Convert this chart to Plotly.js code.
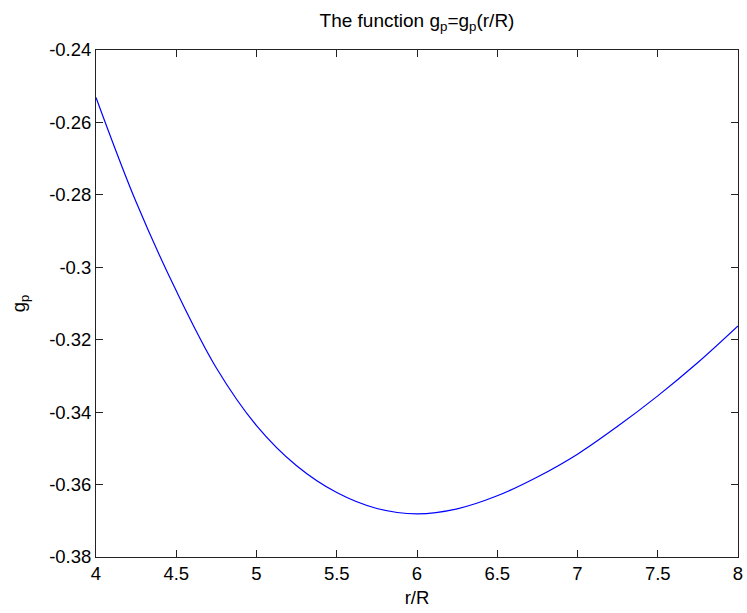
<!DOCTYPE html>
<html>
<head>
<meta charset="utf-8">
<script src="https://cdn.plot.ly/plotly-3.0.1.min.js"></script>
<style>html,body{margin:0;padding:0;background:#fff;}#chart{width:747px;height:613px;}</style>
</head>
<body>
<div id="chart"></div>
<script>
// Values
const rOverR = [4.0, 4.25, 4.5, 4.75, 5.0, 5.25, 5.5, 5.75, 6.0, 6.25, 6.5, 6.75, 7.0, 7.25, 7.5, 7.75, 8.0];
const gp = [-0.2531, -0.2820, -0.3065, -0.3278, -0.3437, -0.3548, -0.3622, -0.3666, -0.3681, -0.3667, -0.3631, -0.3579, -0.3516, -0.3439, -0.3355, -0.3263, -0.3162];
const xTickVals = [4, 4.5, 5, 5.5, 6, 6.5, 7, 7.5, 8];
const xTickText = ['4', '4.5', '5', '5.5', '6', '6.5', '7', '7.5', '8'];
const yTickVals = [-0.38, -0.36, -0.34, -0.32, -0.30, -0.28, -0.26, -0.24];
const yTickText = ['-0.38', '-0.36', '-0.34', '-0.32', '-0.3', '-0.28', '-0.26', '-0.24'];

const font = {family: 'Liberation Sans, Arial, sans-serif', size: 18.5, color: '#000'};

Plotly.newPlot('chart', [{
  x: rOverR, y: gp, type: 'scatter', mode: 'lines',
  line: {color: '#0000ff', width: 1.2, shape: 'spline', smoothing: 1},
  hoverinfo: 'skip'
}], {
  width: 747, height: 613,
  margin: {l: 96, r: 9, t: 50, b: 56},
  paper_bgcolor: '#fff', plot_bgcolor: '#fff',
  font: font,
  showlegend: false,
  title: {text: 'The function g<sub>p</sub>=g<sub>p</sub>(r/R)', font: {family: font.family, size: 19, color: '#000'},
          x: 0.5, xref: 'paper', xanchor: 'center', y: 0.966, yref: 'container', yanchor: 'middle'},
  xaxis: {
    range: [4, 8], tickvals: xTickVals, ticktext: xTickText,
    ticks: 'inside', ticklen: 7, tickwidth: 1, tickcolor: '#222',
    showline: true, linecolor: '#222', linewidth: 1, mirror: 'ticks',
    showgrid: false, zeroline: false,
    tickfont: font,
    title: {text: 'r/R', font: font, standoff: 7}
  },
  yaxis: {
    range: [-0.38, -0.24], tickvals: yTickVals, ticktext: yTickText,
    ticks: 'inside', ticklen: 7, tickwidth: 1, tickcolor: '#222',
    showline: true, linecolor: '#222', linewidth: 1, mirror: 'ticks',
    showgrid: false, zeroline: false,
    tickfont: font,
    title: {text: 'g<sub>p</sub>', font: font, standoff: 18}
  }
}, {displayModeBar: false, staticPlot: true});
</script>
</body>
</html>
